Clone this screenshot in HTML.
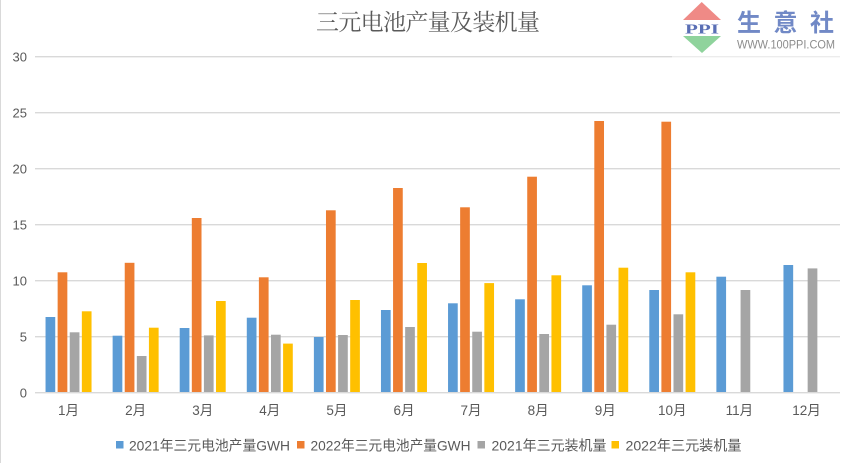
<!DOCTYPE html>
<html><head><meta charset="utf-8"><style>
html,body{margin:0;padding:0;background:#fff;}
svg{display:block;}
text{font-family:"Liberation Sans","Noto Sans CJK SC",sans-serif;fill:#595959;}
</style></head><body>
<svg width="855" height="463" viewBox="0 0 855 463" xmlns="http://www.w3.org/2000/svg">
<rect x="0" y="0" width="855" height="463" fill="#fff"/>
<line x1="0.5" y1="0" x2="0.5" y2="463" stroke="#d9d9d9" stroke-width="1"/>
<!-- title -->
<text x="316" y="30" font-size="23" textLength="224" lengthAdjust="spacing" style="font-family:'Liberation Serif','Noto Serif CJK SC',serif;fill:#595959">三元电池产量及装机量</text>
<!-- gridlines -->
<g stroke="#d9d9d9" stroke-width="1.3">
<line x1="35" y1="56.7" x2="672" y2="56.7"/>
<line x1="35" y1="112.7" x2="840" y2="112.7"/>
<line x1="35" y1="168.7" x2="840" y2="168.7"/>
<line x1="35" y1="224.7" x2="840" y2="224.7"/>
<line x1="35" y1="280.7" x2="840" y2="280.7"/>
<line x1="35" y1="336.7" x2="840" y2="336.7"/>
</g>
<line x1="672" y1="56.7" x2="840" y2="56.7" stroke="#ececec" stroke-width="1.3"/>
<!-- y labels -->
<g font-size="13" text-anchor="end">
<text x="27" y="61.5">30</text>
<text x="27" y="117.5">25</text>
<text x="27" y="173.5">20</text>
<text x="27" y="229.5">15</text>
<text x="27" y="285.5">10</text>
<text x="27" y="341.5">5</text>
<text x="27" y="397.5">0</text>
</g>
<!-- bars -->
<g fill="#5B9BD5">
<rect x="45.54" y="317.0" width="9.7" height="75.7"/>
<rect x="112.63" y="335.7" width="9.7" height="57.0"/>
<rect x="179.71" y="328.0" width="9.7" height="64.7"/>
<rect x="246.79" y="317.7" width="9.7" height="75.0"/>
<rect x="313.88" y="337.0" width="9.7" height="55.7"/>
<rect x="380.96" y="310.0" width="9.7" height="82.7"/>
<rect x="448.04" y="303.3" width="9.7" height="89.4"/>
<rect x="515.13" y="299.3" width="9.7" height="93.4"/>
<rect x="582.21" y="285.3" width="9.7" height="107.4"/>
<rect x="649.29" y="290.0" width="9.7" height="102.7"/>
<rect x="716.38" y="276.7" width="9.7" height="116.0"/>
<rect x="783.46" y="265.0" width="9.7" height="127.7"/>
</g>
<g fill="#ED7D31">
<rect x="57.64" y="272.3" width="9.7" height="120.4"/>
<rect x="124.73" y="262.8" width="9.7" height="129.9"/>
<rect x="191.81" y="218.0" width="9.7" height="174.7"/>
<rect x="258.89" y="277.3" width="9.7" height="115.4"/>
<rect x="325.98" y="210.3" width="9.7" height="182.4"/>
<rect x="393.06" y="188.0" width="9.7" height="204.7"/>
<rect x="460.14" y="207.3" width="9.7" height="185.4"/>
<rect x="527.23" y="176.7" width="9.7" height="216.0"/>
<rect x="594.31" y="121.0" width="9.7" height="271.7"/>
<rect x="661.39" y="121.7" width="9.7" height="271.0"/>
</g>
<g fill="#A5A5A5">
<rect x="69.74" y="332.3" width="9.7" height="60.4"/>
<rect x="136.83" y="356.0" width="9.7" height="36.7"/>
<rect x="203.91" y="335.4" width="9.7" height="57.3"/>
<rect x="270.99" y="334.7" width="9.7" height="58.0"/>
<rect x="338.08" y="335.0" width="9.7" height="57.7"/>
<rect x="405.16" y="327.0" width="9.7" height="65.7"/>
<rect x="472.24" y="331.7" width="9.7" height="61.0"/>
<rect x="539.33" y="334.0" width="9.7" height="58.7"/>
<rect x="606.41" y="324.7" width="9.7" height="68.0"/>
<rect x="673.49" y="314.3" width="9.7" height="78.4"/>
<rect x="740.58" y="290.0" width="9.7" height="102.7"/>
<rect x="807.66" y="268.4" width="9.7" height="124.3"/>
</g>
<g fill="#FFC000">
<rect x="81.84" y="311.3" width="9.7" height="81.4"/>
<rect x="148.93" y="327.7" width="9.7" height="65.0"/>
<rect x="216.01" y="301.0" width="9.7" height="91.7"/>
<rect x="283.09" y="343.6" width="9.7" height="49.1"/>
<rect x="350.18" y="300.0" width="9.7" height="92.7"/>
<rect x="417.26" y="263.0" width="9.7" height="129.7"/>
<rect x="484.34" y="283.1" width="9.7" height="109.6"/>
<rect x="551.43" y="275.3" width="9.7" height="117.4"/>
<rect x="618.51" y="267.7" width="9.7" height="125.0"/>
<rect x="685.59" y="272.3" width="9.7" height="120.4"/>
</g>
<line x1="35" y1="392.7" x2="840" y2="392.7" stroke="#d9d9d9" stroke-width="1.3"/>
<!-- x labels -->
<g font-size="13.5" text-anchor="middle">
<text x="68.5" y="415">1月</text>
<text x="135.6" y="415">2月</text>
<text x="202.7" y="415">3月</text>
<text x="269.8" y="415">4月</text>
<text x="336.9" y="415">5月</text>
<text x="404.0" y="415">6月</text>
<text x="471.0" y="415">7月</text>
<text x="538.1" y="415">8月</text>
<text x="605.2" y="415">9月</text>
<text x="672.3" y="415">10月</text>
<text x="739.4" y="415">11月</text>
<text x="806.5" y="415">12月</text>
</g>
<!-- legend -->
<rect x="116" y="441" width="7.5" height="7.5" fill="#5B9BD5"/>
<text x="129" y="450.5" font-size="14" textLength="161" lengthAdjust="spacingAndGlyphs">2021年三元电池产量GWH</text>
<rect x="297" y="441" width="7.5" height="7.5" fill="#ED7D31"/>
<text x="310.5" y="450.5" font-size="14" textLength="160" lengthAdjust="spacingAndGlyphs">2022年三元电池产量GWH</text>
<rect x="477.5" y="441" width="7.5" height="7.5" fill="#A5A5A5"/>
<text x="491.5" y="450.5" font-size="14" textLength="115" lengthAdjust="spacingAndGlyphs">2021年三元装机量</text>
<rect x="611.5" y="441" width="7.5" height="7.5" fill="#FFC000"/>
<text x="625.5" y="450.5" font-size="14" textLength="116" lengthAdjust="spacingAndGlyphs">2022年三元装机量</text>
<!-- logo -->
<polygon points="701.7,2 683,20 721,20" fill="#ef8a86"/>
<rect x="684" y="21" width="36" height="14" fill="#fff"/>
<text x="702" y="33.5" font-size="14" text-anchor="middle" textLength="34" lengthAdjust="spacingAndGlyphs" style="font-family:'Liberation Serif',serif;fill:#5a6fb5;font-weight:bold">PPI</text>
<polygon points="683,36 721,36 702,53" fill="#8fd39c"/>
<text x="737" y="31" font-size="24" textLength="97" lengthAdjust="spacing" style="font-family:'Liberation Sans','Noto Sans CJK SC',sans-serif;fill:#7189c6;font-weight:bold">生意社</text>
<text x="737" y="48.5" font-size="11.5" textLength="98" lengthAdjust="spacingAndGlyphs" style="fill:#8c8c8c">WWW.100PPI.COM</text>
</svg>
</body></html>
